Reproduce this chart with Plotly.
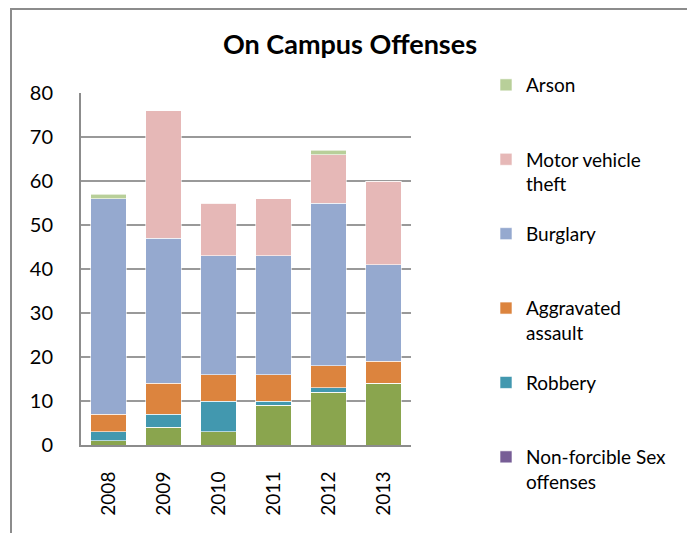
import plotly.graph_objects as go

years = ["2008", "2009", "2010", "2011", "2012", "2013"]
forcible_sex = [1, 4, 3, 9, 12, 14]
non_forcible_sex = [0, 0, 0, 0, 0, 0]
robbery = [2, 3, 7, 1, 1, 0]
aggravated = [4, 7, 6, 6, 5, 5]
burglary = [49, 33, 27, 27, 37, 22]
motor_vehicle = [0, 29, 12, 13, 11, 19]
arson = [1, 0, 0, 0, 1, 0]

series = [
    ("Forcible Sex offenses", forcible_sex, "#8AA54E", False),
    ("Non-forcible Sex<br>offenses", non_forcible_sex, "#775D96", True),
    ("Robbery<br> ", robbery, "#4298AF", True),
    ("Aggravated<br>assault", aggravated, "#DC843E", True),
    ("Burglary<br> ", burglary, "#95A9CF", True),
    ("Motor vehicle<br>theft", motor_vehicle, "#E6B8B7", True),
    ("Arson<br> ", arson, "#B8CF99", True),
]

W, H = 687, 525
L, T, R, B = 73, 85, 284, 88
PW, PH = W - L - R, H - T - B

fig = go.Figure()
n = len(series)
for i, (name, vals, col, show) in enumerate(series):
    fig.add_trace(go.Bar(
        x=years, y=vals, name=name, legendgroup=f"g{i}", legendrank=n - i,
        marker=dict(color=col, line=dict(color="rgba(255,255,255,0.6)", width=1)),
        showlegend=show,
    ))

FONT = "Lato, 'Open Sans', sans-serif"
fig.update_layout(
    barmode="stack",
    bargap=0.36,
    width=W, height=H,
    margin=dict(l=L, r=R, t=T, b=B),
    paper_bgcolor="white", plot_bgcolor="white",
    font=dict(family=FONT, color="black"),
    title=dict(text="<b>On Campus Offenses</b>", x=342 / W, xanchor="center",
               y=1 - 37 / H, yanchor="middle", font=dict(size=27, family=FONT)),
    legend=dict(x=(478 - L) / PW, xanchor="left", y=1 + (T - 58) / PH, yanchor="top",
                traceorder="grouped", tracegroupgap=22, valign="top",
                font=dict(size=19, family=FONT), itemwidth=30, maxheight=500,
                bgcolor="rgba(0,0,0,0)"),
    xaxis=dict(showline=True, linecolor="#8c8c8c", linewidth=2, tickangle=-90,
               tickfont=dict(size=19), ticks="", ticklabelstandoff=17),
    yaxis=dict(range=[0, 80], dtick=10, showgrid=True, gridcolor="#999999", gridwidth=1.5,
               showline=True, linecolor="#8c8c8c", linewidth=2, zeroline=False,
               tickfont=dict(size=20), ticks="", ticklabelstandoff=22),
    shapes=[dict(type="path", xref="paper", yref="paper",
                 path=f"M {(3-L)/PW},{-(B+20)/PH} L {(3-L)/PW},{1+(T-1)/PH} "
                      f"L {(681-L)/PW},{1+(T-1)/PH} L {(681-L)/PW},{-(B+20)/PH}",
                 line=dict(color="#8c8c8c", width=2))],
)

fig.write_html("out.html")
